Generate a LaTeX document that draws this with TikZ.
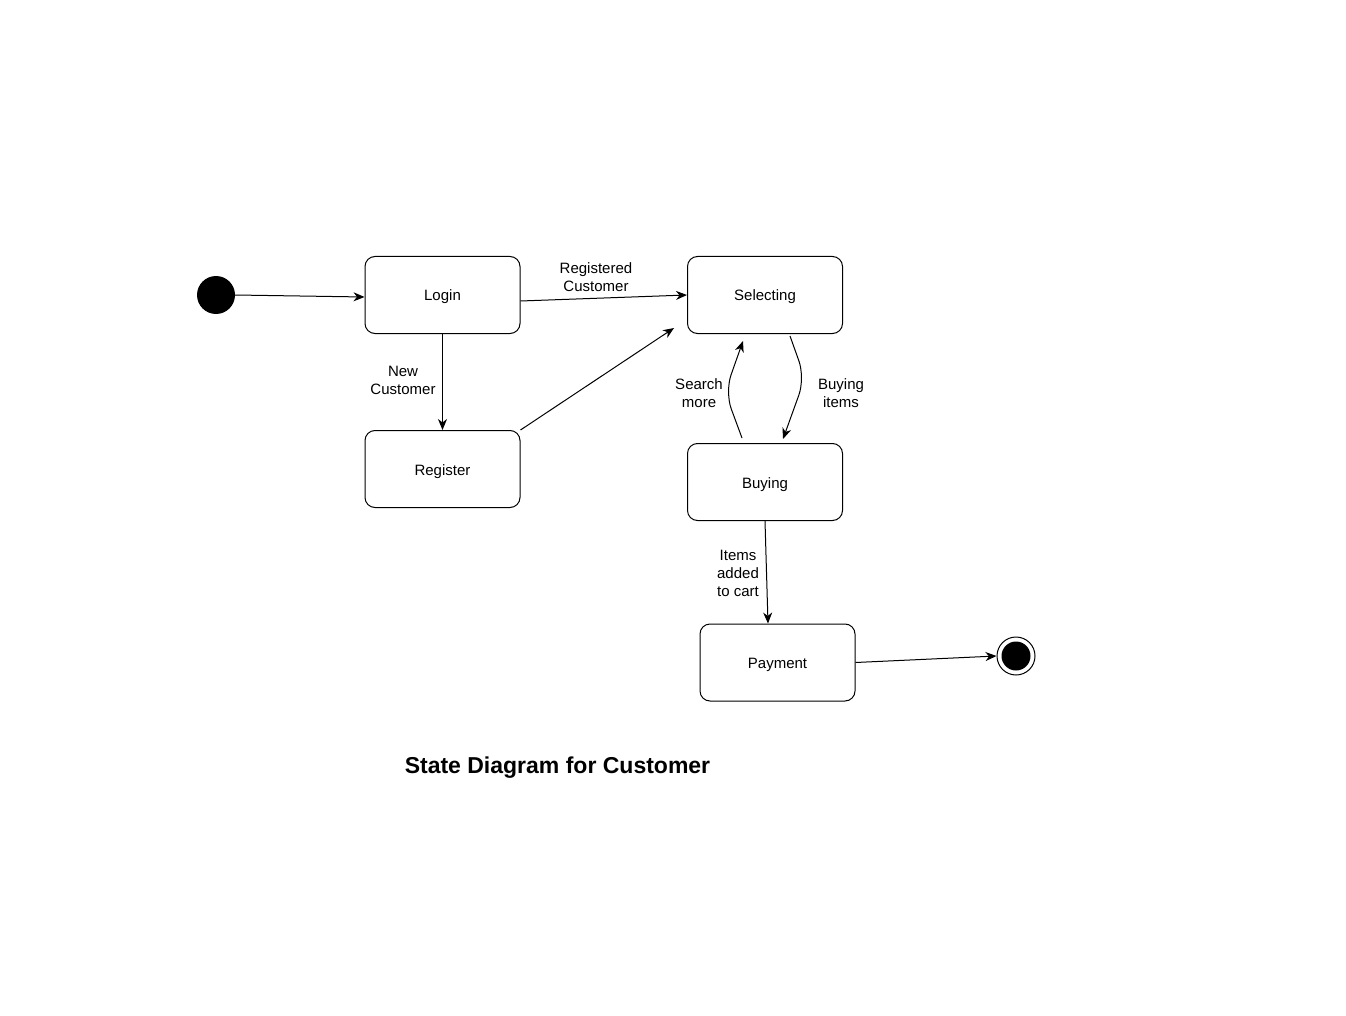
\documentclass[tikz,border=0pt]{standalone}
\usepackage{fontspec}
\setmainfont{Liberation Sans}
\usetikzlibrary{arrows.meta,calc}
\begin{document}
\begin{tikzpicture}[x=1pt,y=-1pt,
  state/.style={draw, line width=1pt, rounded corners=10pt, minimum width=155pt, minimum height=77pt, inner sep=0pt, text height=12pt, text depth=0pt, font=\fontsize{15}{18}\selectfont},
  lbl/.style={align=center, inner sep=0pt, font=\fontsize{15}{18}\selectfont},
  arr/.style={line width=1pt, -{Stealth[length=11pt,width=9pt,inset=3.5pt]}},
  ln/.style={line width=1pt}]
\useasboundingbox (0,0) rectangle (1346,1016);
\fill[white] (0,0) rectangle (1346,1016);
% initial and final
\node[circle, fill=black, minimum size=38pt, inner sep=0pt] (init) at (216,295) {};
\node[circle, draw, line width=1pt, fill=white, minimum size=38pt, inner sep=0pt] (final) at (1016,656) {};
\node[circle, fill=black, minimum size=29pt, inner sep=0pt] (finalin) at (1016,656) {};
% states
\node[state] (login) at (442.5,295) {Login};
\node[state] (sel) at (765,295) {Selecting};
\node[state] (reg) at (442.5,469) {Register};
\node[state] (buy) at (765,482) {Buying};
\node[state] (pay) at (777.5,662.5) {Payment};
% free ends / bend points
\coordinate (regend) at (674,328);
\coordinate (smA) at (742,438);
\coordinate (smB) at (725,392);
\coordinate (smC) at (743,341);
\coordinate (biA) at (790,336);
\coordinate (biB) at (805,378);
\coordinate (biC) at (783,439);
% connectors
\draw[arr] (init.east) -- ($(login.west)+(0,2)$);
\draw[arr] ($(login.east)+(0,6)$) -- (sel.west);
\draw[arr] (login.south) -- (reg.north);
\draw[arr] (reg.north east) -- (regend);
\draw[arr, rounded corners=18pt] (smA) -- (smB) -- (smC);
\draw[arr, rounded corners=18pt] (biA) -- (biB) -- (biC);
\draw[arr] (buy.south) -- ($(pay.north)+(-9.5,0)$);
\draw[arr] (pay.east) -- (final.west);
% labels
\node[lbl] (lreg) at (596,277) {Registered\\Customer};
\node[lbl] (lnew) at (403,380) {New\\Customer};
\node[lbl] (lsearch) at (699,393) {Search\\more};
\node[lbl] (lbuying) at (841,393) {Buying\\items};
\node[lbl] (litems) at (738,573) {Items\\added\\to cart};
\node[font=\bfseries\fontsize{23}{27}\selectfont, inner sep=0pt] (title) at (557.5,768) {State Diagram for Customer};
\end{tikzpicture}
\end{document}
